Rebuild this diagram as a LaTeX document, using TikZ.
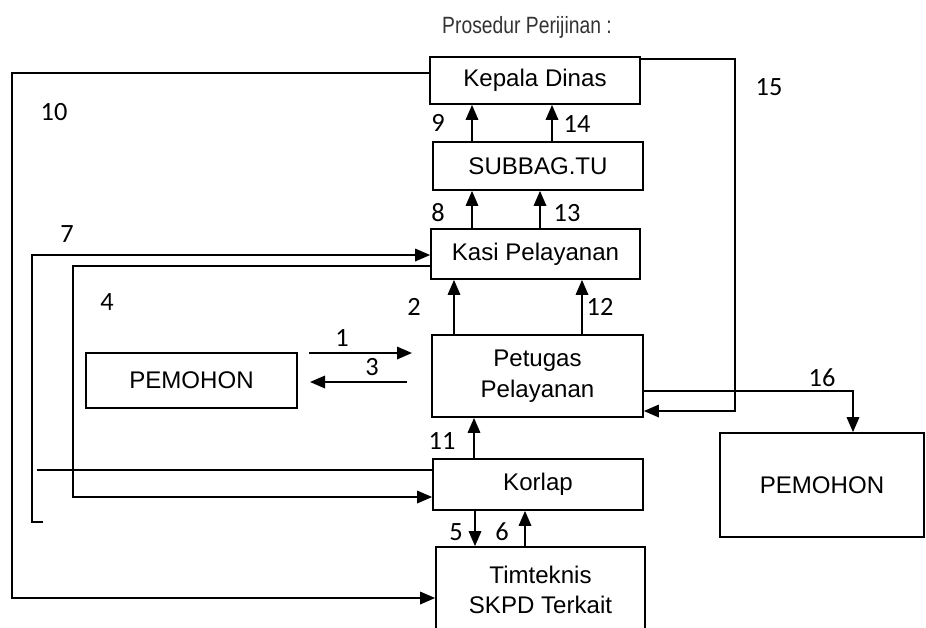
\documentclass[tikz,border=0pt]{standalone}
\usepackage{fontspec}
\setmainfont{Liberation Sans}
\newfontfamily\numfont{Carlito}
\newfontfamily\narrowfont[FakeStretch=0.82]{Liberation Sans}
\usetikzlibrary{arrows.meta}
\tikzstyle{box} = [draw, rectangle, line width=1pt, inner sep=0pt, align=center, font=\fontsize{13.7}{17.5}\selectfont]
\tikzstyle{num} = [inner sep=0pt, font=\numfont\fontsize{15}{15}\selectfont]
\tikzstyle{flow} = [line width=1pt, -{Triangle[length=0.3cm,width=0.25cm]}]
\tikzstyle{wire} = [line width=1pt]

\begin{document}
\begin{tikzpicture}[x=0.02cm,y=-0.02cm]
			\useasboundingbox (0,0) rectangle (926,627);
			\node (title) at(527,27) [font=\narrowfont\fontsize{13.4}{14}\selectfont,text=black!80] {Prosedur Perijinan :};

			\node (kepala dinas) at(535,80.5) [box,minimum width=4.2cm,minimum height=0.94cm] {Kepala Dinas};
			\node (subbag tu) at(538,166) [box,minimum width=4.2cm,minimum height=0.96cm] {SUBBAG.TU};
			\node (kasi pelayanan) at(535.5,254) [box,minimum width=4.18cm,minimum height=1cm] {Kasi Pelayanan};
			\node (petugas pelayanan) at(537.5,376) [box,minimum width=4.22cm,minimum height=1.64cm] {Petugas\\Pelayanan};
			\node (korlap) at(538,484.5) [box,minimum width=4.2cm,minimum height=1.02cm] {Korlap};
			\node (timteknis) at(540.5,590) [box,minimum width=4.18cm,minimum height=1.72cm] {Timteknis\\SKPD Terkait};
			\node (pemohon kiri) at(191.5,380.5) [box,minimum width=4.22cm,minimum height=1.1cm] {PEMOHON};
			\node (pemohon kanan) at(822,485) [box,minimum width=4.08cm,minimum height=2.08cm] {PEMOHON};

			\coordinate (start 1) at (309,353);
			\coordinate (end 1) at (412,353);
			\coordinate (start 3) at (407,382);
			\coordinate (end 3) at (310,382);
			\coordinate (end 7) at (43,522);
			\coordinate (end korlap) at (37,470);

			\path	(subbag tu.north -| 472,0) edge[flow] (kepala dinas.south -| 472,0)
					(subbag tu.north -| 552,0) edge[flow] (kepala dinas.south -| 552,0)
					(kasi pelayanan.north -| 472,0) edge[flow] (subbag tu.south -| 472,0)
					(kasi pelayanan.north -| 540,0) edge[flow] (subbag tu.south -| 540,0)
					(petugas pelayanan.north -| 454,0) edge[flow] (kasi pelayanan.south -| 454,0)
					(petugas pelayanan.north -| 582,0) edge[flow] (kasi pelayanan.south -| 582,0)
					(korlap.north -| 474,0) edge[flow] (petugas pelayanan.south -| 474,0)
					(korlap.south -| 475,0) edge[flow] (timteknis.north -| 475,0)
					(timteknis.north -| 525,0) edge[flow] (korlap.south -| 525,0)
					(start 1) edge[flow] (end 1)
					(start 3) edge[flow] (end 3);

			\draw[flow] (kepala dinas.west |- 0,73) -| (12,598) -- (timteknis.west |- 0,598);
			\draw[flow] (kepala dinas.east |- 0,59) -| (735,411) -- (petugas pelayanan.east |- 0,411);
			\draw[flow] (end 7) -| (32,255) -- (kasi pelayanan.west |- 0,255);
			\draw[flow] (kasi pelayanan.west |- 0,266) -| (73,497) -- (korlap.west |- 0,497);
			\draw[wire] (korlap.west |- 0,470) -- (end korlap);
			\draw[flow] (petugas pelayanan.east |- 0,391) -| (pemohon kanan.north -| 853,0);

			\node (label 1) at(342,338) [num] {1};
			\node (label 2) at(414,307) [num] {2};
			\node (label 3) at(372,367) [num] {3};
			\node (label 4) at(107,302) [num] {4};
			\node (label 5) at(456,532) [num] {5};
			\node (label 6) at(502,532) [num] {6};
			\node (label 7) at(67,234) [num] {7};
			\node (label 8) at(438,213) [num] {8};
			\node (label 9) at(438,123) [num] {9};
			\node (label 10) at(54,112) [num] {10};
			\node (label 11) at(442,441) [num] {11};
			\node (label 12) at(600,307) [num] {12};
			\node (label 13) at(567,213) [num] {13};
			\node (label 14) at(577,124) [num] {14};
			\node (label 15) at(769,87) [num] {15};
			\node (label 16) at(822,378) [num] {16};
\end{tikzpicture}
\end{document}
